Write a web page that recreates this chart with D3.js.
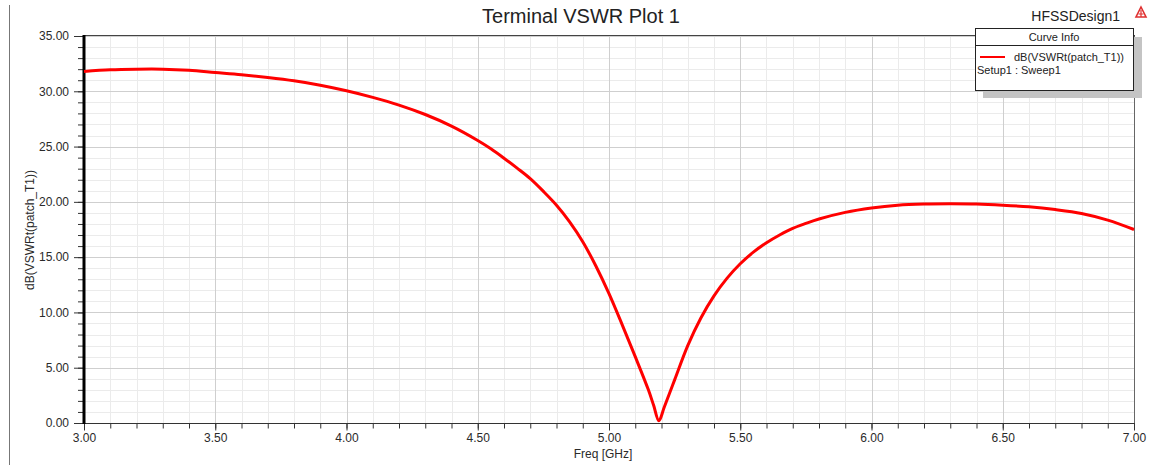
<!DOCTYPE html>
<html>
<head>
<meta charset="UTF-8">
<title>Terminal VSWR Plot 1</title>
<style>
  html, body { margin: 0; padding: 0; background: #fff; }
  svg { display: block; font-family: "Liberation Sans", Arial, sans-serif; }
</style>
</head>
<body>
<svg width="1155" height="465"></svg>
<script src="https://d3js.org/d3.v7.min.js"></script>
<script>
// data
var freqGHz = [3.0, 3.1, 3.2, 3.3, 3.4, 3.5, 3.6, 3.7, 3.8, 3.9,
               4.0, 4.1, 4.2, 4.3, 4.4, 4.5, 4.55, 4.6, 4.65, 4.7,
               4.75, 4.8, 4.85, 4.9, 4.95, 5.0, 5.05, 5.1, 5.15, 5.17,
               5.19, 5.21, 5.25, 5.3, 5.35, 5.4, 5.45, 5.5, 5.55, 5.6,
               5.65, 5.7, 5.75, 5.8, 5.9, 6.0, 6.1, 6.2, 6.3, 6.4,
               6.5, 6.6, 6.7, 6.8, 6.9, 7.0];
var vswrDb = [31.8, 31.95, 32.0, 32.0, 31.9, 31.7, 31.5, 31.25, 30.95, 30.55,
              30.05, 29.45, 28.75, 27.9, 26.85, 25.55, 24.8, 23.95, 23.05, 22.1,
              20.95, 19.7, 18.2, 16.4, 14.2, 11.7, 8.9, 6.0, 3.0, 1.6,
              0.2, 1.4, 3.9, 7.0, 9.5, 11.5, 13.1, 14.4, 15.45, 16.3,
              17.0, 17.6, 18.05, 18.45, 19.05, 19.45, 19.7, 19.8, 19.82, 19.8,
              19.7, 19.55, 19.3, 18.95, 18.35, 17.5];

var xTicks = [3.0, 3.5, 4.0, 4.5, 5.0, 5.5, 6.0, 6.5, 7.0];
var yTicks = [0, 5, 10, 15, 20, 25, 30, 35];

var title = "Terminal VSWR Plot 1";
var designName = "HFSSDesign1";
var xLabel = "Freq [GHz]";
var yLabel = "dB(VSWRt(patch_T1))";
var legendTitle = "Curve Info";
var seriesName = "dB(VSWRt(patch_T1))";
var seriesSetup = "Setup1 : Sweep1";

var data = freqGHz.map(function (f, i) { return { f: f, v: vswrDb[i] }; });

// layout
var svg = d3.select("svg");
var pL = 84, pR = 1134, pT = 36, pB = 423;

var x = d3.scaleLinear().domain([3, 7]).range([pL, pR]);
var y = d3.scaleLinear().domain([0, 35]).range([pB, pT]);

// minor grid
var xMinor = d3.range(30, 71).map(function (d) { return d / 10; });
var yMinor = d3.range(0, 36);

var grid = svg.append("g");
grid.selectAll(".vminor").data(xMinor).enter().append("line")
  .attr("x1", function (d) { return Math.round(x(d)) + 0.5; })
  .attr("x2", function (d) { return Math.round(x(d)) + 0.5; })
  .attr("y1", pT).attr("y2", pB)
  .attr("stroke", "#ebebeb").attr("stroke-width", 1);
grid.selectAll(".hminor").data(yMinor).enter().append("line")
  .attr("y1", function (d) { return Math.round(y(d)) + 0.5; })
  .attr("y2", function (d) { return Math.round(y(d)) + 0.5; })
  .attr("x1", pL).attr("x2", pR)
  .attr("stroke", "#ebebeb").attr("stroke-width", 1);
// major grid
grid.selectAll(".vmajor").data(xTicks).enter().append("line")
  .attr("x1", function (d) { return Math.round(x(d)) + 0.5; })
  .attr("x2", function (d) { return Math.round(x(d)) + 0.5; })
  .attr("y1", pT).attr("y2", pB)
  .attr("stroke", "#cfcfcf").attr("stroke-width", 1);
grid.selectAll(".hmajor").data(yTicks).enter().append("line")
  .attr("y1", function (d) { return Math.round(y(d)) + 0.5; })
  .attr("y2", function (d) { return Math.round(y(d)) + 0.5; })
  .attr("x1", pL).attr("x2", pR)
  .attr("stroke", "#cfcfcf").attr("stroke-width", 1);

// plot frame (top and right)
svg.append("line").attr("x1", pL).attr("x2", pR + 1)
  .attr("y1", pT - 0.5).attr("y2", pT - 0.5)
  .attr("stroke", "#444").attr("stroke-width", 1);
svg.append("line").attr("x1", pR + 0.5).attr("x2", pR + 0.5)
  .attr("y1", pT).attr("y2", pB)
  .attr("stroke", "#666").attr("stroke-width", 1);

// outer frame line on the left
svg.append("line").attr("x1", 9.5).attr("x2", 9.5)
  .attr("y1", 5).attr("y2", 465)
  .attr("stroke", "#777").attr("stroke-width", 1);

// axes
var xAxisMinor = d3.axisBottom(x).tickValues(xMinor).tickSize(5).tickFormat("");
var xAxis = d3.axisBottom(x).tickValues(xTicks).tickSize(7).tickPadding(3)
  .tickFormat(d3.format(".2f"));
var yAxisMinor = d3.axisLeft(y).tickValues(yMinor).tickSize(6).tickFormat("");
var yAxis = d3.axisLeft(y).tickValues(yTicks).tickSize(10).tickPadding(5)
  .tickFormat(d3.format(".2f"));

function styleAxis(g, color) {
  g.select(".domain").remove();
  g.selectAll("line").attr("stroke", color);
  g.selectAll("text").attr("fill", "#2a2a2a").attr("font-size", 12)
    .attr("font-family", "Liberation Sans, Arial, sans-serif");
}

svg.append("g").attr("transform", "translate(0," + (pB + 0.5) + ")")
  .call(xAxisMinor).call(styleAxis, "#333");
svg.append("g").attr("transform", "translate(0," + (pB + 0.5) + ")")
  .call(xAxis).call(styleAxis, "#333");
svg.append("g").attr("transform", "translate(" + pL + ",0)")
  .call(yAxisMinor).call(styleAxis, "#333");
svg.append("g").attr("transform", "translate(" + pL + ",0)")
  .call(yAxis).call(styleAxis, "#333");

// axis lines
svg.append("line").attr("x1", pL).attr("x2", pR + 1)
  .attr("y1", pB + 0.5).attr("y2", pB + 0.5)
  .attr("stroke", "#333").attr("stroke-width", 1.2);
svg.append("line").attr("x1", pL).attr("x2", pL)
  .attr("y1", pT - 1).attr("y2", pB + 1)
  .attr("stroke", "#000").attr("stroke-width", 3);

// curve
var line = d3.line()
  .x(function (d) { return x(d.f); })
  .y(function (d) { return y(d.v); })
  .curve(d3.curveCatmullRom.alpha(0.5));

svg.append("path").datum(data)
  .attr("d", line)
  .attr("fill", "none")
  .attr("stroke", "#ff0000")
  .attr("stroke-width", 3)
  .attr("stroke-linejoin", "round");

// titles
svg.append("text").attr("x", 581).attr("y", 23)
  .attr("text-anchor", "middle").attr("font-size", 20).attr("fill", "#222")
  .text(title);
svg.append("text").attr("x", 1120).attr("y", 21)
  .attr("text-anchor", "end").attr("font-size", 14).attr("fill", "#222")
  .text(designName);
svg.append("text").attr("x", 603).attr("y", 458)
  .attr("text-anchor", "middle").attr("font-size", 12).attr("fill", "#2a2a2a")
  .text(xLabel);
svg.append("text")
  .attr("transform", "translate(34,230) rotate(-90)")
  .attr("text-anchor", "middle").attr("font-size", 12).attr("fill", "#2a2a2a")
  .text(yLabel);

// small logo at top right
var logo = svg.append("g").attr("transform", "translate(1136,7)");
logo.append("path").attr("d", "M5,0 L10,10 L0,10 Z")
  .attr("fill", "none").attr("stroke", "#e03030").attr("stroke-width", 1.6);
logo.append("path").attr("d", "M5,3 L5,10 M2.5,7 L7.5,7")
  .attr("stroke", "#e03030").attr("stroke-width", 1.2);

// legend box with shadow
var lg = svg.append("g");
lg.append("rect").attr("x", 983).attr("y", 37).attr("width", 159).attr("height", 61)
  .attr("fill", "#c4c4c4");
lg.append("rect").attr("x", 975.5).attr("y", 28.5).attr("width", 158).attr("height", 62)
  .attr("fill", "#fff").attr("stroke", "#222").attr("stroke-width", 1);
lg.append("line").attr("x1", 975.5).attr("x2", 1133.5).attr("y1", 45.5).attr("y2", 45.5)
  .attr("stroke", "#222").attr("stroke-width", 1);
lg.append("text").attr("x", 1054).attr("y", 41)
  .attr("text-anchor", "middle").attr("font-size", 11).attr("fill", "#222")
  .text(legendTitle);
lg.append("line").attr("x1", 980).attr("x2", 1005).attr("y1", 57).attr("y2", 57)
  .attr("stroke", "#ff0000").attr("stroke-width", 2);
lg.append("text").attr("x", 1014).attr("y", 61)
  .attr("font-size", 11).attr("fill", "#222")
  .text(seriesName);
lg.append("text").attr("x", 977).attr("y", 74)
  .attr("font-size", 11).attr("fill", "#222")
  .text(seriesSetup);
</script>
</body>
</html>
